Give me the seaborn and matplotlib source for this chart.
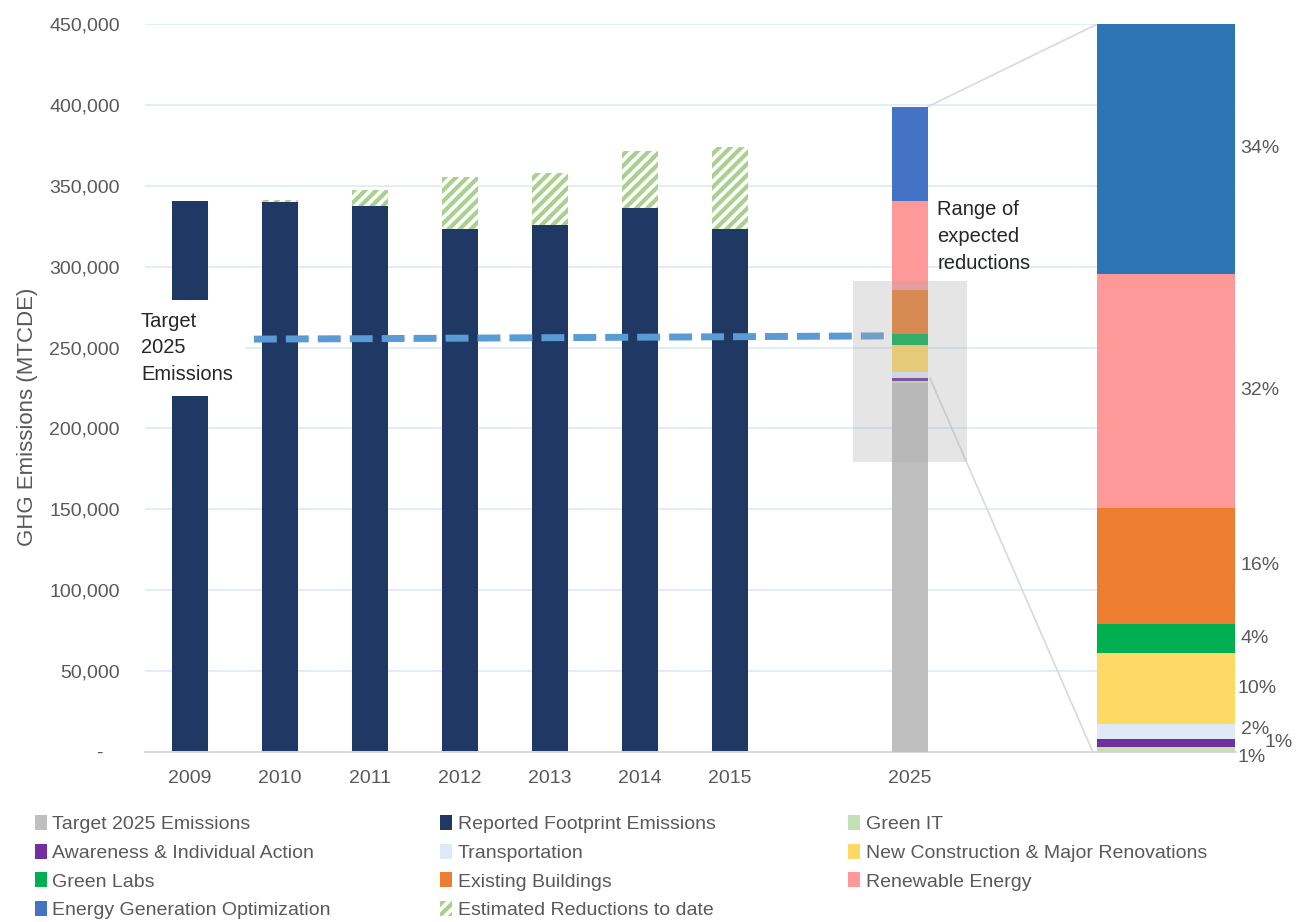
import numpy as np
import pandas as pd
import matplotlib
matplotlib.use('Agg')
import matplotlib.pyplot as plt
from matplotlib.patches import Patch, Rectangle
from matplotlib.ticker import FuncFormatter, FixedLocator
from matplotlib import font_manager
import seaborn as sns

# ---- data ----
years = ['2009', '2010', '2011', '2012', '2013', '2014', '2015']
reported = [340500, 340000, 337500, 323100, 325700, 336500, 323500]
reductions_to_date = [0, 1000, 9900, 32100, 32100, 35000, 50500]

# dashed "target" line, one point per year plus 2025
target_line_years = ['2009', '2010', '2011', '2012', '2013', '2014', '2015', '2025']
target_line = [255000, 255300, 255500, 255800, 256100, 256400, 256700, 257300]

target_2025 = 228000
wedge_names = ['Green IT', 'Awareness & Individual Action', 'Transportation',
               'New Construction & Major Renovations', 'Green Labs',
               'Existing Buildings', 'Renewable Energy', 'Energy Generation Optimization']
wedge_values = [1200, 1900, 3500, 16700, 6800, 27200, 55000, 58700]

# category slots on the x axis (blank slots are empty)
order = years + ['gap1', '2025', 'gap2', 'gap3', 'gap4']
tick_labels = [c if not c.startswith('gap') else '' for c in order]

# colours
navy = '#1F3864'
gray = '#BFBFBF'
hatch_green = '#A9D18E'
wedge_colors = ['#C5E0B4', '#7030A0', '#DEEBF7', '#FFD966', '#00B050',
                '#ED7D31', '#FF9999', '#4472C4']
zoom_colors = wedge_colors[:-1] + ['#2E75B6']
text_gray = '#595959'

sns.set_theme(style="white")
names = {f.name for f in font_manager.fontManager.ttflist}
base_font = 'Liberation Sans Narrow' if 'Liberation Sans Narrow' in names else 'Liberation Sans'
plt.rcParams['font.family'] = [base_font, 'DejaVu Sans']
plt.rcParams['hatch.linewidth'] = 3.0

fig = plt.figure(figsize=(12.96, 9.22), dpi=100)
ax = fig.add_axes([145 / 1296, 1 - 752 / 922, 1091 / 1296, 728 / 922])

df = pd.DataFrame({'year': years, 'reported': reported,
                   'reductions': reductions_to_date})
df['total'] = df['reported'] + df['reductions']

# hatched "estimated reductions" behind the reported bars
sns.barplot(data=df, x='year', y='total', order=order, color='white',
            saturation=1, width=0.4, errorbar=None, hatch='///',
            edgecolor=hatch_green, linewidth=0, ax=ax, zorder=2)
sns.barplot(data=df, x='year', y='reported', order=order, color=navy,
            saturation=1, width=0.4, errorbar=None, linewidth=0, ax=ax, zorder=2)

# target dashed line
line_x = [order.index(y) for y in target_line_years]
ax.plot(line_x, target_line, color='#5B9BD5', lw=5, dashes=(3.3, 1.3), zorder=3,
        solid_capstyle='butt', dash_capstyle='butt')

# 2025 stacked bar
x25 = order.index('2025')
ax.bar(x25, target_2025, width=0.4, color=gray, zorder=4, linewidth=0)
bottom = target_2025
for v, c in zip(wedge_values, wedge_colors):
    ax.bar(x25, v, bottom=bottom, width=0.4, color=c, zorder=4, linewidth=0)
    bottom += v
top_2025 = bottom

# zoomed breakdown bar on the right, scaled to fill the axis
ymax = 450000
total_red = sum(wedge_values)
zoom_x, zoom_w = 10.845, 1.53
b = 0
label_offsets = [(2, -6), (21, 0), (4, 1), (2, 0), (4, 0), (4, 0), (4, 0), (4, 0)]
for v, c, off in zip(wedge_values, zoom_colors, label_offsets):
    h = v / total_red * ymax
    ax.bar(zoom_x, h, bottom=b, width=zoom_w, color=c, zorder=4, linewidth=0)
    ax.annotate(f'{round(v / total_red * 100)}%', xy=(zoom_x + zoom_w / 2, b + h / 2),
                xytext=off, textcoords='offset points', ha='left', va='center',
                fontsize=14, color=text_gray, annotation_clip=False)
    b += h

# connector lines to the breakdown
ax.plot([x25 + 0.2, zoom_x - zoom_w / 2], [top_2025, ymax], color='#D9D9D9', lw=1.2, zorder=3)
ax.plot([x25 + 0.22, zoom_x - zoom_w / 2 - 0.05],
        [target_2025 + wedge_values[0] + wedge_values[1], 0],
        color='#D9D9D9', lw=1.2, zorder=3)

# shaded range of expected reductions
ax.add_patch(Rectangle((x25 - 0.63, 179300), 1.26, 111800, facecolor='#A9A9A9',
                       alpha=0.3, linewidth=0, zorder=5))

ax.text(x25 + 0.3, 341500, 'Range of\nexpected\nreductions', fontsize=14.5,
        color='#262626', va='top', ha='left', linespacing=1.55, zorder=6)
ax.text(-0.545, 249800, 'Target\n2025\nEmissions', fontsize=14.5, color='#262626',
        va='center', ha='left', linespacing=1.5, zorder=6,
        bbox=dict(facecolor='white', edgecolor='none', boxstyle='square,pad=0.6'))

# axes styling
ax.set_xlim(-0.5, 11.62)
ax.set_ylim(0, ymax)
ax.set_yticks(np.arange(0, ymax + 1, 50000))
ax.yaxis.set_major_formatter(FuncFormatter(lambda v, p: '-   ' if v == 0 else f'{int(v):,}'))
ax.set_xticks(range(len(order)))
ax.set_xticklabels(tick_labels)
ax.xaxis.set_minor_locator(FixedLocator(np.arange(-0.5, len(order), 1)))
ax.tick_params(axis='x', which='major', length=0, pad=13, labelsize=14, labelcolor=text_gray)
ax.tick_params(axis='x', which='minor', length=7, width=1.2, color='#D9D9D9', direction='out')
ax.tick_params(axis='y', length=0, pad=18, labelsize=14, labelcolor=text_gray)
ax.yaxis.grid(True, color='#E3EDF8', lw=1.4)
ax.set_axisbelow(True)
for s in ['top', 'right', 'left']:
    ax.spines[s].set_visible(False)
ax.spines['bottom'].set_color('#D9D9D9')
ax.spines['bottom'].set_linewidth(1.4)
ax.set_xlabel('')
ax.set_ylabel('GHG Emissions (MTCDE)', fontsize=16, color=text_gray)
ax.yaxis.set_label_coords(-0.098, 0.46)

# legend in three columns
col1 = [('Target 2025 Emissions', gray), (wedge_names[1], wedge_colors[1]),
        (wedge_names[4], wedge_colors[4]), (wedge_names[7], wedge_colors[7])]
col2 = [('Reported Footprint Emissions', navy), (wedge_names[2], wedge_colors[2]),
        (wedge_names[5], wedge_colors[5]), ('Estimated Reductions to date', None)]
col3 = [(wedge_names[0], wedge_colors[0]), (wedge_names[3], wedge_colors[3]),
        (wedge_names[6], wedge_colors[6])]

for col, xpx in zip([col1, col2, col3], [35, 440, 848]):
    handles = []
    for name, c in col:
        if c is None:
            handles.append(Patch(facecolor='white', edgecolor=hatch_green, hatch='///',
                                 linewidth=0, label=name))
        else:
            handles.append(Patch(facecolor=c, edgecolor='none', label=name))
    fig.legend(handles=handles, loc='upper left', bbox_to_anchor=(xpx / 1296, 1 - 815 / 922),
               frameon=False, fontsize=14, labelcolor=text_gray, handlelength=0.6,
               handleheight=0.8, handletextpad=0.3, labelspacing=0.54,
               borderpad=0, borderaxespad=0)

fig.savefig('out.png', dpi=100)
